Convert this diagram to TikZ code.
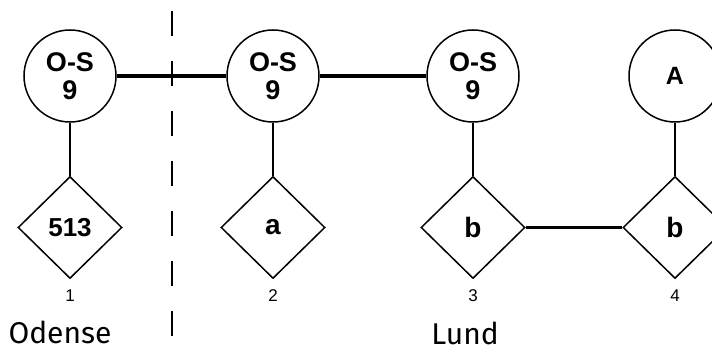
\documentclass[tikz,border=0pt]{standalone}
\usepackage{fontspec}
\setsansfont{Liberation Sans}
\newfontfamily\placefont{Fira Sans}
\usetikzlibrary{shapes.geometric,positioning}
\tikzset{
	% Specifications for style of nodes:
	station/.style = {circle, draw=black, line width=1.5pt,
	minimum size=92pt, inner sep=0pt,
	align=center, font=\sffamily\bfseries\fontsize{27}{28}\selectfont},
	sample/.style = {diamond, draw=black, line width=1.5pt,
	minimum width=104pt, minimum height=102pt, inner sep=0pt,
	align=center, font=\sffamily\bfseries\fontsize{28}{28}\selectfont},
	num/.style = {inner sep=0pt, font=\sffamily\fontsize{17}{17}\selectfont},
	place/.style = {inner sep=0pt, font=\placefont\fontsize{30}{30}\selectfont},
	link/.style = {draw=black, line width=1.5pt},
	track/.style = {draw=black, line width=3.5pt},
	border/.style = {draw=black, line width=2pt, dash pattern=on 25pt off 25pt},
}

\begin{document}
\begin{tikzpicture}[x=1pt, y=-1pt, node distance=202pt]
		\useasboundingbox (0,0) rectangle (712,352);
		% draw stations
		\node (os1)[station] at (70,76) {O-S\\9};
		\node (os2)[station, right of=os1, xshift=1pt]{O-S\\9};
		\node (os3)[station, right of=os2, xshift=-2pt]{O-S\\9};
		\node (sa)[station, right of=os3, font=\sffamily\bfseries\fontsize{25}{25}\selectfont]{A};
		% samples
		\node (d1)[sample, below=53pt of os1, font=\sffamily\bfseries\fontsize{26}{26}\selectfont]{513};
		\node (d2)[sample, below=53pt of os2]{a};
		\node (d3)[sample, below=53pt of os3]{b};
		\node (d4)[sample, below=53pt of sa]{b};
		% numbers
		\node (n1)[num, below=10pt of d1]{1};
		\node (n2)[num, below=10pt of d2]{2};
		\node (n3)[num, below=10pt of d3]{3};
		\node (n4)[num, below=10pt of d4]{4};
		% places
		\node (odense)[place] at (60,332) {Odense};
		\node (lund)[place] at (465,333) {Lund};
		% border between places
		\coordinate (bt) at (172,11);
		\coordinate (bb) at (172,340);
		\draw[border](bt) -- (bb);
		% draw connections
		\draw[track](os1) -- (os2);
		\draw[track](os2) -- (os3);
		\draw[track](d3) -- (d4);
		\draw[link](os1) -- (d1);
		\draw[link](os2) -- (d2);
		\draw[link](os3) -- (d3);
		\draw[link](sa) -- (d4);
\end{tikzpicture}
\end{document}
